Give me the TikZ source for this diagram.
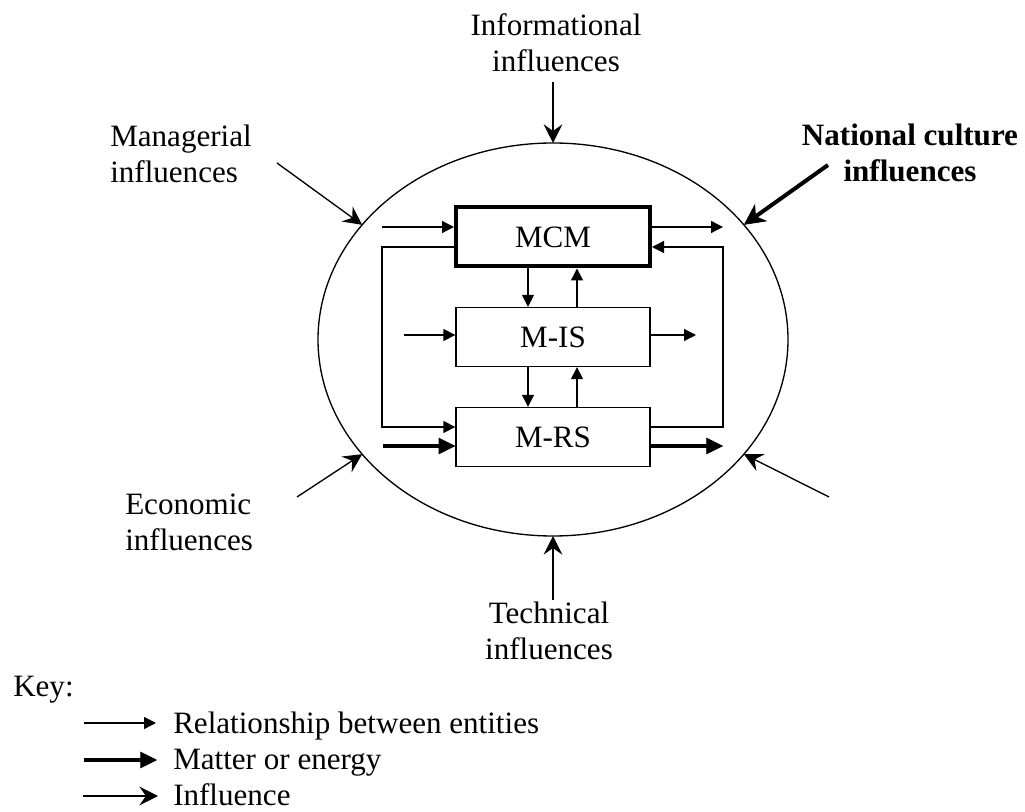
\documentclass[tikz,border=0pt]{standalone}
\usepackage{fontspec}
\setmainfont{Liberation Serif}
\usetikzlibrary{shapes.geometric,arrows.meta}

\begin{document}
\begin{tikzpicture}[x=0.75pt,y=-0.75pt,
  txt/.style={font=\fontsize{23.3pt}{27pt}\selectfont, inner sep=0pt},
  unit/.style={txt, draw, line width=1pt, minimum width=145.5pt, minimum height=44.25pt},
  rel/.style={line width=1pt, -{Triangle[length=9pt,width=9pt]}},
  matter/.style={line width=3.4pt, -{Triangle[length=12.5pt,width=12.5pt,line width=0.5pt]}},
  infl/.style={line width=1pt, -{Stealth[length=14pt,width=14pt,inset=5pt]}},
  boldinfl/.style={line width=3pt, -{Stealth[length=16pt,width=16pt,inset=5pt,line width=0.5pt]}},
]
\useasboundingbox (0,0) rectangle (1025,812);

% system boundary
\node[draw, ellipse, line width=1pt, minimum width=352.5pt, minimum height=294.75pt,
      inner sep=0pt, outer sep=0pt] (sys) at (553,339.5) {};

% subsystems
\node[unit, line width=3pt] (mcm) at (553,237) {MCM};
\node[unit] (mis) at (553,337) {M-IS};
\node[unit] (mrs) at (553,437) {M-RS};

% free ends of the internal flows
\coordinate (inA)  at (382,227);
\coordinate (outA) at (723,227);
\coordinate (lA)   at (382,247);
\coordinate (lB)   at (382,427);
\coordinate (rA)   at (723,427);
\coordinate (rB)   at (723,247);
\coordinate (inB)  at (404,335);
\coordinate (outB) at (696,335);
\coordinate (inC)  at (383,446);
\coordinate (outC) at (723,446);
\coordinate (dn)   at (528,0);
\coordinate (up)   at (577,0);

\draw[rel] (inA) -- (inA -| mcm.west);
\draw[rel] (outA -| mcm.east) -- (outA);
\draw[rel] (lA -| mcm.west) -- (lA) -- (lB) -- (lB -| mrs.west);
\draw[rel] (rA -| mrs.east) -- (rA) -- (rB) -- (rB -| mcm.east);
\draw[rel] (inB) -- (inB -| mis.west);
\draw[rel] (outB -| mis.east) -- (outB);
\draw[matter] (inC) -- (inC -| mrs.west);
\draw[matter] (outC -| mrs.east) -- (outC);

\draw[rel] (dn |- mcm.south) -- (dn |- mis.north);
\draw[rel] (up |- mis.north) -- (up |- mcm.south);
\draw[rel] (dn |- mis.south) -- (dn |- mrs.north);
\draw[rel] (up |- mrs.north) -- (up |- mis.south);

% environmental influences
\node[txt, anchor=north, align=center] (info) at (556,13.8) {Informational\\influences};
\node[txt, anchor=north west, align=left] (mgr) at (110,124.8) {Managerial\\influences};
\node[txt, anchor=north, align=center, font=\fontsize{23.3pt}{27pt}\selectfont\bfseries]
     (nat) at (910,124) {National culture\\influences};
\node[txt, anchor=north west, align=left] (eco) at (125,494) {Economic\\influences};
\node[txt, anchor=north, align=center] (tech) at (549,602) {Technical\\influences};

\coordinate (infoA) at (553,82);
\coordinate (mgrA)  at (277,163);
\coordinate (natA)  at (828,165);
\coordinate (ecoA)  at (297,497);
\coordinate (rbA)   at (829,497);
\coordinate (techA) at (553,600);

\draw[infl] (infoA) -- (sys.north);
\draw[infl] (mgrA) -- (sys.149);
\draw[boldinfl] (natA) -- (sys.31);
\draw[infl] (ecoA) -- (sys.211);
\draw[infl] (rbA) -- (sys.329);
\draw[infl] (techA) -- (sys.south);

% key
\node[txt, anchor=base west] (key) at (13,696) {Key:};
\node[txt, anchor=base west] (k1) at (173,733) {Relationship between entities};
\node[txt, anchor=base west] (k2) at (173,769.5) {Matter or energy};
\node[txt, anchor=base west] (k3) at (173,805) {Influence};

\coordinate (k1a) at (84,723);
\coordinate (k1b) at (156,723);
\coordinate (k2a) at (84,760);
\coordinate (k2b) at (157,760);
\coordinate (k3a) at (83,796);
\coordinate (k3b) at (158,796);

\draw[rel] (k1a) -- (k1b);
\draw[matter] (k2a) -- (k2b);
\draw[infl] (k3a) -- (k3b);
\end{tikzpicture}
\end{document}
